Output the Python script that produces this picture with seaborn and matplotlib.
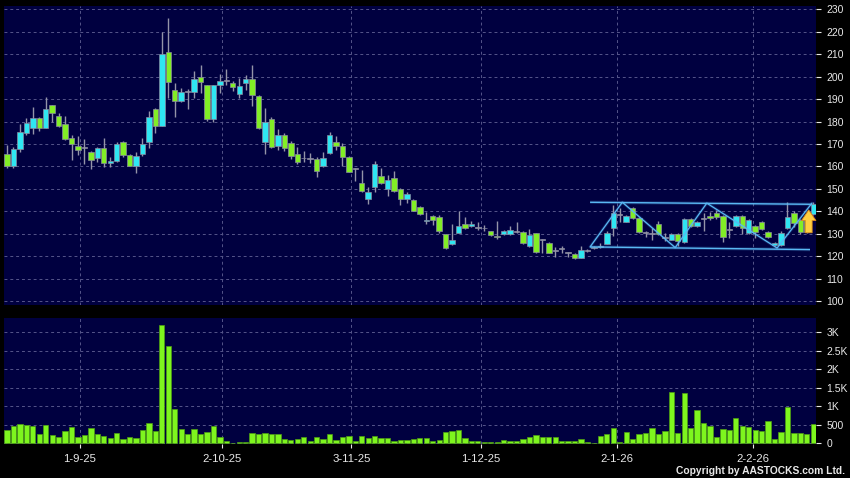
import numpy as np
import pandas as pd
import matplotlib
matplotlib.use("Agg")
import matplotlib.pyplot as plt
import seaborn as sns

# ---------------- data ----------------
opens = [165.4, 160.0, 167.6, 174.8, 177.0, 181.5, 177.0, 187.2, 182.5, 179.0,
         172.5, 169.0, 168.4, 166.6, 163.6, 168.0, 161.3, 162.5, 171.0, 165.0,
         160.3, 165.4, 170.7, 185.5, 178.0, 211.0, 193.9, 189.3, 193.3, 193.3,
         199.9, 196.1, 181.0, 196.3, 198.2, 197.2, 192.2, 197.2, 199.0, 191.2,
         171.0, 181.0, 169.3, 174.2, 170.2, 165.6, 163.6, 163.2, 163.2, 160.0,
         166.0, 170.9, 169.0, 164.2, 158.9, 152.4, 145.5, 150.8, 155.9, 149.7,
         154.6, 149.7, 145.5, 145.2, 141.8, 135.8, 138.0, 137.6, 129.7, 125.6,
         130.5, 134.5, 133.2, 132.7, 132.4, 131.0, 128.9, 129.7, 129.7, 130.8,
         130.8, 124.6, 130.1, 127.2, 126.0, 122.3, 123.2, 121.5, 121.1, 119.2,
         122.4, 123.8, 124.1, 125.6, 132.7, 138.4, 135.3, 141.5, 137.0, 130.3,
         130.0, 134.2, 128.0, 127.4, 129.8, 126.4, 136.7, 133.5, 136.7, 138.1,
         139.4, 137.9, 131.8, 133.5, 137.9, 130.2, 133.5, 135.2, 130.9, 124.9,
         124.9, 132.7, 139.4, 136.0, 136.0, 138.9]
closes = [160.0, 167.6, 175.2, 179.3, 181.5, 177.0, 185.5, 183.7, 177.8, 172.2,
          169.9, 167.2, 168.4, 162.7, 168.0, 161.6, 162.5, 169.9, 165.0, 160.3,
          164.8, 169.9, 182.2, 178.0, 210.0, 197.6, 189.3, 193.0, 193.3, 199.0,
          197.5, 181.0, 196.1, 198.2, 198.2, 195.2, 195.7, 199.0, 191.8, 177.0,
          180.0, 168.8, 174.2, 168.2, 164.8, 162.1, 163.6, 163.2, 157.8, 163.6,
          174.2, 169.0, 164.4, 157.7, 158.9, 149.2, 148.8, 161.0, 152.7, 154.0,
          149.2, 145.3, 147.8, 140.3, 138.6, 136.3, 136.0, 131.0, 123.8, 127.2,
          133.4, 132.7, 134.5, 132.7, 132.4, 129.2, 128.4, 131.0, 131.6, 130.8,
          125.7, 129.2, 121.9, 127.2, 121.6, 122.3, 123.2, 121.5, 119.0, 122.5,
          122.4, 123.8, 124.1, 130.5, 139.0, 138.4, 137.9, 137.0, 130.8, 130.3,
          130.0, 130.0, 128.0, 129.7, 126.6, 136.7, 133.5, 135.1, 136.7, 136.8,
          137.5, 128.4, 131.8, 137.9, 132.5, 135.9, 130.6, 132.2, 128.3, 125.9,
          130.5, 137.5, 134.9, 130.6, 130.8, 143.4]
highs = [169.5, 168.5, 179.0, 181.5, 186.4, 182.0, 191.0, 187.5, 183.6, 182.5,
         174.0, 173.7, 172.2, 167.0, 168.8, 172.8, 164.0, 170.8, 171.5, 165.5,
         166.5, 172.8, 184.5, 186.0, 220.0, 226.3, 197.2, 195.0, 194.5, 202.7,
         205.0, 196.5, 196.5, 201.2, 203.6, 198.0, 199.4, 200.9, 205.4, 191.8,
         186.0, 182.0, 176.5, 175.0, 171.2, 168.6, 167.0, 166.0, 164.0, 166.4,
         175.4, 173.5, 170.2, 164.5, 159.3, 158.4, 150.8, 162.5, 159.1, 156.0,
         158.0, 150.2, 148.5, 145.6, 142.2, 139.8, 138.3, 138.2, 130.0, 134.2,
         140.1, 137.5, 135.5, 135.2, 133.9, 131.3, 135.5, 131.5, 133.5, 135.0,
         131.2, 132.0, 130.5, 127.6, 126.4, 124.2, 124.3, 122.0, 121.5, 124.5,
         123.0, 124.5, 126.0, 131.0, 142.7, 141.5, 138.5, 142.0, 137.3, 131.0,
         132.5, 135.5, 130.3, 130.2, 130.4, 137.2, 137.0, 135.6, 139.2, 139.5,
         140.5, 138.4, 135.3, 138.5, 138.4, 136.4, 134.0, 135.6, 131.3, 126.4,
         131.0, 143.9, 139.9, 136.4, 136.5, 144.0]
lows = [159.4, 159.5, 166.6, 174.0, 174.3, 175.8, 177.0, 179.7, 177.5, 171.8,
        163.0, 165.0, 161.0, 159.0, 161.8, 159.9, 159.9, 161.8, 164.0, 160.0,
        157.0, 164.5, 168.0, 175.1, 178.0, 190.5, 182.0, 188.8, 185.8, 190.4,
        192.7, 180.4, 180.0, 192.7, 196.3, 193.4, 190.4, 194.0, 186.7, 176.5,
        165.4, 168.0, 167.1, 166.7, 163.2, 161.0, 162.0, 161.4, 155.3, 159.6,
        165.5, 167.1, 160.0, 157.3, 153.3, 148.8, 143.4, 148.8, 152.3, 147.0,
        148.8, 142.9, 143.5, 140.0, 138.2, 134.1, 133.8, 130.5, 123.3, 125.0,
        130.3, 132.3, 132.8, 131.7, 131.2, 128.8, 127.8, 129.2, 129.3, 130.3,
        125.3, 124.2, 121.5, 121.5, 121.2, 119.5, 121.6, 119.5, 118.6, 119.0,
        122.0, 123.3, 123.5, 125.2, 129.0, 135.3, 135.0, 136.5, 130.3, 128.6,
        127.2, 129.5, 126.9, 127.0, 124.3, 126.0, 133.0, 133.0, 131.0, 136.3,
        136.6, 126.5, 127.9, 133.0, 130.0, 129.8, 128.1, 131.5, 127.9, 124.4,
        124.3, 132.3, 133.0, 130.0, 130.3, 138.5]
volumes = [360, 468, 513, 486, 477, 243, 486, 225, 171, 324,
           441, 162, 225, 423, 243, 207, 135, 279, 126, 171,
           135, 351, 549, 333, 3186, 2619, 927, 387, 252, 387,
           252, 306, 468, 171, 72, 9, 36, 36, 288, 261,
           279, 243, 243, 108, 90, 126, 162, 63, 162, 117,
           243, 90, 171, 198, 63, 198, 135, 189, 144, 144,
           63, 99, 90, 108, 135, 153, 72, 90, 297, 333,
           360, 135, 63, 63, 36, 36, 36, 81, 63, 72,
           117, 180, 234, 162, 162, 162, 54, 54, 54, 108,
           36, 18, 207, 252, 414, 45, 297, 108, 252, 270,
           414, 252, 324, 1377, 270, 1359, 414, 909, 549, 468,
           162, 396, 351, 693, 459, 441, 351, 324, 603, 126,
           297, 990, 279, 279, 261, 531]

date_labels = ["1-9-25", "2-10-25", "3-11-25", "1-12-25", "2-1-26", "2-2-26"]
date_label_pos = [11.3, 33.4, 53.4, 73.5, 94.6, 115.7]
price_ticks = [100, 110, 120, 130, 140, 150, 160, 170, 180, 190, 200, 210, 220, 230]
vol_ticks = [0, 500, 1000, 1500, 2000, 2500, 3000]
vol_tick_labels = ["0", "500", "1K", "1.5K", "2K", "2.5K", "3K"]

# drawn trend-channel annotation (bar index, price)
channel_top_x = [90.4, 124.8]
channel_top_y = [144.0, 143.1]
channel_bot_x = [90.4, 124.5]
channel_bot_y = [124.1, 122.9]
zigzag_x = [90.4, 95.4, 103.6, 108.5, 119.4, 124.8]
zigzag_y = [124.1, 144.0, 123.8, 143.6, 123.6, 143.6]
arrow_x = 124.3
arrow_from = 130.4
arrow_to = 140.6

# ---------------- styling ----------------
sns.set_style("dark")
plt.rcParams["font.family"] = ["Liberation Sans", "DejaVu Sans"]

BG = "#000000"
PANEL = "#000040"
GRID = "#55558a"
UP = "#2FE6F2"
DOWN = "#82EE26"
DOJI = "#A9A9B4"
WICK = "#9494A8"
VOL = "#7EF51E"
TXT = "#E8E8E8"
CHAN = "#5AB8F4"

df = pd.DataFrame({"open": opens, "high": highs, "low": lows,
                   "close": closes, "volume": volumes})
df["idx"] = np.arange(len(df))
df["dir"] = np.where(df["close"] > df["open"], "up",
                     np.where(df["close"] < df["open"], "down", "flat"))
color_map = {"up": UP, "down": DOWN, "flat": DOJI}

W, H = 850, 478
fig = plt.figure(figsize=(W / 100, H / 100), dpi=100, facecolor=BG)
ax = fig.add_axes([4 / W, 1 - 305 / H, 812 / W, 299 / H])
axv = fig.add_axes([4 / W, 1 - 444 / H, 812 / W, 125.7 / H])

xlim = (-0.47, 125.43)

for a in (ax, axv):
    a.set_facecolor(PANEL)
    for s in a.spines.values():
        s.set_visible(False)

# ---- price panel ----
ax.vlines(df["idx"], df["low"], df["high"], color=WICK, lw=1.0, zorder=2)
body_bottom = np.minimum(df["open"], df["close"])
body_h = np.maximum((df["close"] - df["open"]).abs(), 0.35)
ax.bar(df["idx"], body_h, bottom=body_bottom, width=0.84,
       color=[color_map[d] for d in df["dir"]],
       edgecolor="#8a8aa0", linewidth=0.5, zorder=3)

# channel annotation
for lw, al in ((2.4, 0.18), (1.0, 1.0)):
    ax.plot(channel_top_x, channel_top_y, color=CHAN, lw=lw, alpha=al, zorder=4,
            solid_capstyle="butt")
    ax.plot(channel_bot_x, channel_bot_y, color=CHAN, lw=lw, alpha=al, zorder=4,
            solid_capstyle="butt")
    ax.plot(zigzag_x, zigzag_y, color=CHAN, lw=lw * 0.9, alpha=al, zorder=4)

ax.annotate("", xy=(arrow_x, arrow_to), xytext=(arrow_x, arrow_from),
            arrowprops=dict(arrowstyle="simple,head_length=0.85,head_width=1.15,tail_width=0.55",
                            fc="#FFCF40", ec="#D88A1A", lw=0.6, mutation_scale=9,
                            shrinkA=0, shrinkB=0),
            zorder=6)

ax.set_xlim(*xlim)
ax.set_ylim(98.2, 231.5)
ax.set_yticks(price_ticks)
ax.set_yticklabels([str(v) for v in price_ticks])
ax.set_xticks(date_label_pos)
ax.tick_params(axis="x", labelbottom=False, length=0)

# ---- volume panel ----
sns.barplot(x=df["idx"], y=df["volume"], native_scale=True, ax=axv,
            color=VOL, saturation=1, width=0.82, edgecolor="#4E9E12",
            linewidth=0.5, zorder=3)
axv.set_xlim(*xlim)
axv.set_ylim(-20, 3380)
axv.set_yticks(vol_ticks)
axv.set_yticklabels(vol_tick_labels)
axv.set_xticks(date_label_pos)
axv.set_xticklabels(date_labels)
axv.set_xlabel("")
axv.set_ylabel("")

for a in (ax, axv):
    a.yaxis.tick_right()
    a.grid(True, color=GRID, linestyle=(0, (3, 3)), linewidth=0.7, zorder=0)
    a.set_axisbelow(True)
    a.tick_params(axis="y", which="both", direction="out", length=3.5, width=0.8,
                  colors=TXT, labelcolor=TXT, labelsize=7.5, pad=4, right=True, left=False,
                  labelright=True, labelleft=False)
axv.tick_params(axis="x", direction="out", length=3, width=0.8, colors=TXT,
                labelcolor=TXT, labelsize=8.2, pad=4, bottom=True)

fig.text(845 / W, 1 - 474 / H, "Copyright by AASTOCKS.com Ltd.", ha="right",
         va="baseline", color=TXT, fontsize=7.4, fontweight="bold")

fig.savefig("out.png", dpi=100, facecolor=BG)
